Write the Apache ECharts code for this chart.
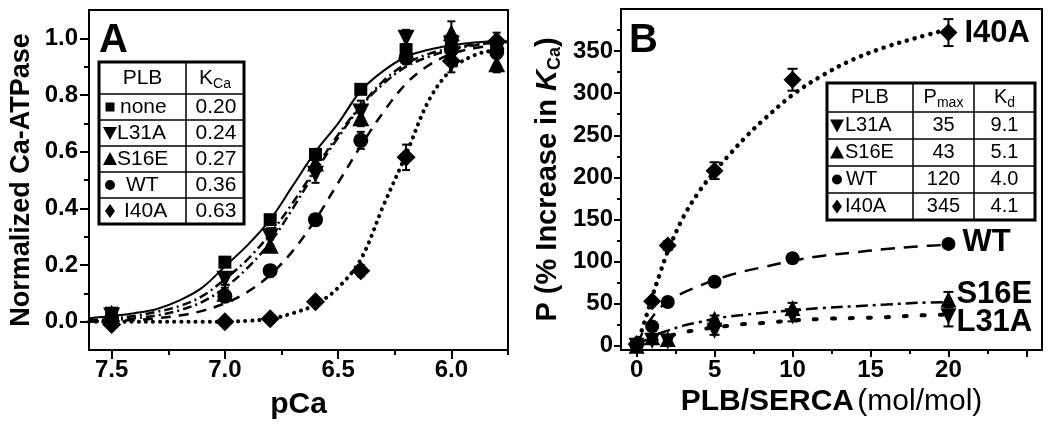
<!DOCTYPE html>
<html>
<head>
<meta charset="utf-8">
<script src="https://cdn.jsdelivr.net/npm/echarts@6/dist/echarts.min.js"></script>
<style>
html,body{margin:0;padding:0;background:#fff;}
#c{width:1050px;height:428px;}
</style>
</head>
<body>
<div id="c"></div>
<script>
// ================= Panel A data =================
const aNames = ['none', 'L31A', 'S16E', 'WT', 'I40A'];
const pCa = [7.5, 7.0, 6.8, 6.6, 6.4, 6.2, 6.0, 5.8];
const aNone = [0.03, 0.21, 0.36, 0.59, 0.82, 0.96, 0.99, 0.97];
const aL31A = [0.02, 0.15, 0.30, 0.52, 0.74, 1.00, 0.98, 0.96];
const aS16E = [0.03, 0.10, 0.27, 0.56, 0.72, 0.95, 1.02, 0.91];
const aWT   = [0.01, 0.09, 0.18, 0.36, 0.64, 0.93, 0.96, 0.95];
const aI40A = [-0.01, 0.00, 0.01, 0.07, 0.18, 0.58, 0.92, 0.99];
const aNoneErr = [0.01, 0.01, 0.01, 0.02, 0.01, 0.02, 0.02, 0.02];
const aL31AErr = [0.01, 0.02, 0.03, 0.03, 0.04, 0.03, 0.02, 0.02];
const aS16EErr = [0.01, 0.02, 0.02, 0.02, 0.03, 0.03, 0.04, 0.03];
const aWTErr   = [0.01, 0.02, 0.02, 0.02, 0.03, 0.02, 0.03, 0.02];
const aI40AErr = [0.01, 0.01, 0.01, 0.01, 0.02, 0.045, 0.04, 0.03];
// fitted curves
const pCaFit  = [7.6, 7.5, 7.4, 7.3, 7.2, 7.1, 7.0, 6.9, 6.8, 6.7, 6.6, 6.5, 6.4, 6.3, 6.2, 6.1, 6.0, 5.9, 5.8, 5.75];
const fitNone = [0.012, 0.02, 0.03, 0.045, 0.075, 0.12, 0.195, 0.27, 0.36, 0.48, 0.60, 0.70, 0.815, 0.885, 0.935, 0.96, 0.975, 0.985, 0.99, 0.99];
const fitL31A = [0.005, 0.01, 0.02, 0.035, 0.055, 0.09, 0.15, 0.22, 0.31, 0.42, 0.54, 0.66, 0.76, 0.84, 0.90, 0.935, 0.96, 0.975, 0.985, 0.988];
const fitS16E = [0.003, 0.006, 0.012, 0.022, 0.04, 0.07, 0.12, 0.19, 0.28, 0.40, 0.53, 0.65, 0.76, 0.85, 0.91, 0.945, 0.965, 0.978, 0.985, 0.987];
const fitWT   = [0.0, 0.003, 0.006, 0.012, 0.022, 0.038, 0.065, 0.105, 0.165, 0.25, 0.36, 0.49, 0.62, 0.74, 0.84, 0.905, 0.945, 0.965, 0.975, 0.978];
const fitI40A = [0.0, 0.0, 0.0, 0.0, 0.0, 0.0, 0.0, 0.003, 0.01, 0.03, 0.06, 0.12, 0.22, 0.41, 0.59, 0.78, 0.89, 0.94, 0.96, 0.965];
// axis ticks A
const aXMajor = [7.5, 7.0, 6.5, 6.0];
const aXMinor = [7.25, 6.75, 6.25, 5.75];
const aYMajor = [0, 0.2, 0.4, 0.6, 0.8, 1.0];
const aYMinor = [0.1, 0.3, 0.5, 0.7, 0.9];
// table A
const tabANames = ['none', 'L31A', 'S16E', 'WT', 'I40A'];
const tabAKca = ['0.20', '0.24', '0.27', '0.36', '0.63'];

// ================= Panel B data =================
const bNames = ['L31A', 'S16E', 'WT', 'I40A'];
const ratio = [0, 1, 2, 5, 10, 20];
const bL31A = [0, 6, 5, 18, 35, 35];
const bS16E = [0, 10, 8, 32, 45, 55];
const bWT   = [0, 23, 52, 76, 104, 121];
const bI40A = [2, 53, 119, 208, 316, 372];
const bL31AErr = [0, 3, 3, 5, 6, 12];
const bS16EErr = [0, 3, 5, 4, 6, 9];
const bWTErr   = [0, 2, 3, 3, 4, 3];
const bI40AErr = [0, 2, 5, 10, 13, 16];
const ratioFit = [0, 0.5, 1, 1.5, 2, 3, 4, 5, 6, 7, 8, 10, 12, 14, 16, 18, 20];
const fitBL31A = [0, 3, 6, 8, 11, 16, 19, 22, 24, 26, 27, 30, 32, 33, 34, 36, 37];
const fitBS16E = [0, 6, 11, 15, 18, 24, 28, 32, 35, 37, 39, 42, 45, 47, 49, 51, 52];
const fitBWT   = [0, 20, 34, 45, 53, 63, 71, 78, 84, 89, 93, 101, 107, 111, 115, 118, 120];
const fitBI40A = [0, 28, 58, 86, 112, 153, 183, 207, 228, 248, 266, 298, 322, 341, 355, 366, 376];
const bXMajor = [0, 5, 10, 15, 20, 25];
const bXLabels = [0, 5, 10, 15, 20];
const bXMinor = [2.5, 7.5, 12.5, 17.5, 22.5];
const bYMajor = [0, 50, 100, 150, 200, 250, 300, 350];
const bYMinor = [25, 75, 125, 175, 225, 275, 325, 375];
// table B
const tabBNames = ['L31A', 'S16E', 'WT', 'I40A'];
const tabBPmax = ['35', '43', '120', '345'];
const tabBKd = ['9.1', '5.1', '4.0', '4.1'];

// ================= helpers =================
const F = '"Liberation Sans", Arial, Helvetica, sans-serif';
const pts = (xs, ys) => xs.map((x, i) => [x, ys[i]]);
const errs = (xs, ys, es) => xs.map((x, i) => [x, ys[i], es[i]]);

const symbolOf = {
  none: {symbol: 'rect', size: 13, rotate: 0},
  L31A: {symbol: 'triangle', size: 17, rotate: 180},
  S16E: {symbol: 'triangle', size: 17, rotate: 0},
  WT:   {symbol: 'circle', size: 15, rotate: 0},
  I40A: {symbol: 'diamond', size: 19, rotate: 0}
};

function errRender(capHalf) {
  return function (params, api) {
    const x = api.value(0), y = api.value(1), e = api.value(2);
    if (!(e > 0)) return null;
    const p1 = api.coord([x, y + e]);
    const p2 = api.coord([x, y - e]);
    const st = {stroke: '#000', lineWidth: 2};
    return {
      type: 'group',
      children: [
        {type: 'line', shape: {x1: p1[0], y1: p1[1], x2: p2[0], y2: p2[1]}, style: st},
        {type: 'line', shape: {x1: p1[0] - capHalf, y1: p1[1], x2: p1[0] + capHalf, y2: p1[1]}, style: st},
        {type: 'line', shape: {x1: p2[0] - capHalf, y1: p2[1], x2: p2[0] + capHalf, y2: p2[1]}, style: st}
      ]
    };
  };
}

const tickLabel = {fontSize: 24, fontWeight: 'bold', color: '#000', fontFamily: F};

function majorAxis(extra) {
  return Object.assign({
    type: 'value',
    axisLine: {show: true, onZero: false, lineStyle: {color: '#000', width: 2}},
    splitLine: {show: false},
  }, extra);
}
function minorAxis(extra) {
  return Object.assign({
    type: 'value',
    axisLine: {show: false, onZero: false},
    axisLabel: {show: false},
    splitLine: {show: false},
  }, extra);
}

// ================= series =================
const series = [];
const aLineStyles = {
  none: {type: 'solid', width: 2},
  L31A: {type: [9, 4, 2, 4], width: 2.5},
  S16E: {type: [9, 4, 2, 4], width: 2.5},
  WT:   {type: [10, 8], width: 2.5},
  I40A: {type: [0.1, 7], width: 4, cap: 'round'}
};
const aFits = {none: fitNone, L31A: fitL31A, S16E: fitS16E, WT: fitWT, I40A: fitI40A};
const aVals = {none: aNone, L31A: aL31A, S16E: aS16E, WT: aWT, I40A: aI40A};
const aErrs = {none: aNoneErr, L31A: aL31AErr, S16E: aS16EErr, WT: aWTErr, I40A: aI40AErr};

aNames.forEach(n => {
  series.push({
    name: 'fitA-' + n, type: 'line', xAxisIndex: 0, yAxisIndex: 0,
    data: pts(pCaFit, aFits[n]), showSymbol: false, symbol: 'none', smooth: 0.35,
    lineStyle: Object.assign({color: '#000'}, aLineStyles[n]), silent: true, z: 2
  });
});
aNames.forEach(n => {
  series.push({
    name: 'errA-' + n, type: 'custom', xAxisIndex: 0, yAxisIndex: 0,
    encode: {x: 0, y: 1}, renderItem: errRender(4),
    data: errs(pCa, aVals[n], aErrs[n]), z: 3, silent: true
  });
});
aNames.forEach(n => {
  const s = symbolOf[n];
  series.push({
    name: 'A-' + n, type: 'scatter', xAxisIndex: 0, yAxisIndex: 0,
    data: pts(pCa, aVals[n]), symbol: s.symbol, symbolSize: s.size, symbolRotate: s.rotate,
    itemStyle: {color: '#000', opacity: 1}, z: 4
  });
});

const bLineStyles = {
  L31A: {type: [3, 15], width: 4, cap: 'round'},
  S16E: {type: [12, 5, 3, 5], width: 2.5},
  WT:   {type: [14, 9], width: 2.5},
  I40A: {type: [0.1, 8], width: 4.5, cap: 'round'}
};
const bFits = {L31A: fitBL31A, S16E: fitBS16E, WT: fitBWT, I40A: fitBI40A};
const bVals = {L31A: bL31A, S16E: bS16E, WT: bWT, I40A: bI40A};
const bErrs = {L31A: bL31AErr, S16E: bS16EErr, WT: bWTErr, I40A: bI40AErr};
const bLabelShift = {
  L31A: {distance: 0, dy: 6},
  S16E: {distance: 0, dy: -5},
  WT:   {distance: 7, dy: -1},
  I40A: {distance: 7, dy: 1}
};

bNames.forEach(n => {
  series.push({
    name: 'fitB-' + n, type: 'line', xAxisIndex: 2, yAxisIndex: 2,
    data: pts(ratioFit, bFits[n]), showSymbol: false, symbol: 'none', smooth: 0.35,
    lineStyle: Object.assign({color: '#000'}, bLineStyles[n]), silent: true, z: 2
  });
});
bNames.forEach(n => {
  series.push({
    name: 'errB-' + n, type: 'custom', xAxisIndex: 2, yAxisIndex: 2,
    encode: {x: 0, y: 1}, renderItem: errRender(5),
    data: errs(ratio, bVals[n], bErrs[n]), z: 3, silent: true
  });
});
bNames.forEach(n => {
  const s = symbolOf[n];
  const last = ratio.length - 1;
  series.push({
    name: 'B-' + n, type: 'scatter', xAxisIndex: 2, yAxisIndex: 2,
    data: pts(ratio, bVals[n]), symbol: s.symbol, symbolSize: s.size - 1, symbolRotate: s.rotate,
    itemStyle: {color: '#000', opacity: 1}, z: 4,
    label: {
      show: true, position: 'right', distance: bLabelShift[n].distance,
      formatter: p => (p.dataIndex === last ? n : ''),
      fontSize: 31, fontWeight: 'bold', color: '#000', fontFamily: F
    },
    labelLayout: () => ({dy: bLabelShift[n].dy, hideOverlap: false})
  });
});

// ================= tables (graphic) =================
function icon(kind, cx, cy) {
  const st = {fill: '#000'};
  if (kind === 'none') return {type: 'rect', shape: {x: cx - 4.5, y: cy - 4.5, width: 9, height: 9}, style: st};
  if (kind === 'L31A') return {type: 'polygon', shape: {points: [[cx - 7, cy - 6], [cx + 7, cy - 6], [cx, cy + 7]]}, style: st};
  if (kind === 'S16E') return {type: 'polygon', shape: {points: [[cx - 7, cy + 6], [cx + 7, cy + 6], [cx, cy - 7]]}, style: st};
  if (kind === 'WT') return {type: 'circle', shape: {cx: cx, cy: cy, r: 5}, style: st};
  return {type: 'polygon', shape: {points: [[cx, cy - 7], [cx + 5, cy], [cx, cy + 7], [cx - 5, cy]]}, style: st};
}
function txt(t, x, y, size, align, rich) {
  const style = {text: t, x: x, y: y, fill: '#000', fontSize: size, fontFamily: F, align: align || 'center', verticalAlign: 'middle'};
  if (rich) style.rich = rich;
  return {type: 'text', style: style};
}
function line(x1, y1, x2, y2, w) {
  return {type: 'line', shape: {x1, y1, x2, y2}, style: {stroke: '#000', lineWidth: w}};
}
const nameTextLeft = {none: 120, L31A: 117, S16E: 117, WT: 126, I40A: 124};
const nameTextLeftB = {L31A: 845, S16E: 845, WT: 846, I40A: 845};

function tableA() {
  const L = 99, R = 244, T = 62, H0 = 32, RH = 26, D = 186;
  const B = T + H0 + RH * tabANames.length;
  const el = [];
  el.push({type: 'rect', shape: {x: L, y: T, width: R - L, height: B - T}, style: {fill: '#fff', stroke: '#000', lineWidth: 3}});
  el.push(line(D, T, D, B, 1.5));
  for (let i = 0; i < tabANames.length; i++) el.push(line(L, T + H0 + RH * i, R, T + H0 + RH * i, 1.5));
  el.push(txt('PLB', (L + D) / 2, T + H0 / 2, 21));
  el.push(txt('{k|K}{s|Ca}', (D + R) / 2, T + H0 / 2, 21, 'center',
    {k: {fontSize: 21, fontFamily: F, fill: '#000', lineHeight: 26, verticalAlign: 'middle'},
     s: {fontSize: 14, fontFamily: F, fill: '#000', lineHeight: 26, verticalAlign: 'bottom', padding: [8, 0, 0, 0]}}));
  tabANames.forEach((n, i) => {
    const cy = T + H0 + RH * i + RH / 2;
    el.push(icon(n, 110, cy));
    el.push(txt(n, nameTextLeft[n], cy, 21, 'left'));
    el.push(txt(tabAKca[i], (D + R) / 2 + 1, cy, 21));
  });
  return {type: 'group', z: 100, children: el};
}
function tableB() {
  const L = 827, R = 1035, T = 83, H0 = 29, RH = 27, D1 = 913, D2 = 974;
  const B = T + H0 + RH * tabBNames.length;
  const el = [];
  el.push({type: 'rect', shape: {x: L, y: T, width: R - L, height: B - T}, style: {fill: '#fff', stroke: '#000', lineWidth: 3}});
  el.push(line(D1, T, D1, B, 1.5));
  el.push(line(D2, T, D2, B, 1.5));
  for (let i = 0; i < tabBNames.length; i++) el.push(line(L, T + H0 + RH * i, R, T + H0 + RH * i, 1.5));
  el.push(txt('PLB', (L + D1) / 2, T + H0 / 2, 20));
  const subRich = {m: {fontSize: 20, fontFamily: F, fill: '#000', lineHeight: 26, verticalAlign: 'middle'},
                   s: {fontSize: 14, fontFamily: F, fill: '#000', lineHeight: 26, verticalAlign: 'bottom', padding: [8, 0, 0, 0]}};
  el.push(txt('{m|P}{s|max}', (D1 + D2) / 2, T + H0 / 2, 20, 'center', subRich));
  el.push(txt('{m|K}{s|d}', (D2 + R) / 2, T + H0 / 2, 20, 'center', subRich));
  tabBNames.forEach((n, i) => {
    const cy = T + H0 + RH * i + RH / 2;
    el.push(icon(n, 837, cy));
    el.push(txt(n, nameTextLeftB[n], cy, 20, 'left'));
    el.push(txt(tabBPmax[i], (D1 + D2) / 2, cy, 20));
    el.push(txt(tabBKd[i], (D2 + R) / 2, cy, 20));
  });
  return {type: 'group', z: 100, children: el};
}

// ================= option =================
const option = {
  backgroundColor: '#fff',
  animation: false,
  textStyle: {fontFamily: F},
  grid: [
    {left: 89, top: 10, width: 419, height: 340, show: true, borderColor: '#000', borderWidth: 2, backgroundColor: 'transparent'},
    {left: 621, top: 9, width: 421, height: 341, show: true, borderColor: '#000', borderWidth: 2, backgroundColor: 'transparent'}
  ],
  xAxis: [
    majorAxis({
      gridIndex: 0, position: 'bottom', min: 5.75, max: 7.6, inverse: true,
      axisTick: {show: true, inside: false, length: 9, lineStyle: {color: '#000', width: 2}, customValues: aXMajor},
      axisLabel: Object.assign({customValues: aXMajor, margin: 8, formatter: v => v.toFixed(1)}, tickLabel),
      name: 'pCa', nameLocation: 'middle', nameGap: 40,
      nameTextStyle: {fontSize: 30, fontWeight: 'bold', color: '#000', fontFamily: F}
    }),
    minorAxis({
      gridIndex: 0, position: 'bottom', min: 5.75, max: 7.6, inverse: true,
      axisTick: {show: true, inside: false, length: 5, lineStyle: {color: '#000', width: 2}, customValues: aXMinor}
    }),
    majorAxis({
      gridIndex: 1, position: 'bottom', min: -1, max: 26,
      axisTick: {show: true, inside: false, length: 7, lineStyle: {color: '#000', width: 2}, customValues: bXMajor},
      axisLabel: Object.assign({customValues: bXLabels, margin: 8}, tickLabel),
      name: '{b|PLB/SERCA} {r|(mol/mol)}', nameLocation: 'middle', nameGap: 34,
      nameTextStyle: {color: '#000', fontFamily: F, rich: {
        b: {fontSize: 30, fontWeight: 'bold', color: '#000', fontFamily: F},
        r: {fontSize: 30, fontWeight: 'normal', color: '#000', fontFamily: F}
      }}
    }),
    minorAxis({
      gridIndex: 1, position: 'bottom', min: -1, max: 26,
      axisTick: {show: true, inside: false, length: 4, lineStyle: {color: '#000', width: 2}, customValues: bXMinor}
    })
  ],
  yAxis: [
    majorAxis({
      gridIndex: 0, position: 'left', min: -0.1, max: 1.1,
      axisTick: {show: true, inside: false, length: 9, lineStyle: {color: '#000', width: 2}, customValues: aYMajor},
      axisLabel: Object.assign({customValues: aYMajor, margin: 11, formatter: v => v.toFixed(1)}, tickLabel),
      name: 'Normalized Ca-ATPase', nameLocation: 'middle', nameRotate: 90, nameGap: 54,
      nameTextStyle: {fontSize: 27, fontWeight: 'bold', color: '#000', fontFamily: F}
    }),
    minorAxis({
      gridIndex: 0, position: 'left', min: -0.1, max: 1.1,
      axisTick: {show: true, inside: false, length: 5, lineStyle: {color: '#000', width: 2}, customValues: aYMinor}
    }),
    majorAxis({
      gridIndex: 1, position: 'left', min: -5, max: 400,
      axisTick: {show: true, inside: false, length: 7, lineStyle: {color: '#000', width: 2}, customValues: bYMajor},
      axisLabel: Object.assign({customValues: bYMajor, margin: 8}, tickLabel),
      name: '{n|P (% Increase in }{i|K}{s|Ca}{n|)}', nameLocation: 'middle', nameRotate: 90, nameGap: 57,
      nameTextStyle: {color: '#000', fontFamily: F, rich: {
        n: {fontSize: 29, fontWeight: 'bold', color: '#000', fontFamily: F, lineHeight: 33, verticalAlign: 'middle'},
        i: {fontSize: 29, fontWeight: 'bold', fontStyle: 'italic', color: '#000', fontFamily: F, lineHeight: 33, verticalAlign: 'middle'},
        s: {fontSize: 18, fontWeight: 'bold', color: '#000', fontFamily: F, lineHeight: 33, verticalAlign: 'bottom', padding: [10, 0, 0, 0]}
      }}
    }),
    minorAxis({
      gridIndex: 1, position: 'left', min: -5, max: 400,
      axisTick: {show: true, inside: false, length: 4, lineStyle: {color: '#000', width: 2}, customValues: bYMinor}
    })
  ],
  series: series,
  graphic: [
    {type: 'text', z: 100, style: {text: 'A', x: 99, y: 21, fontSize: 40, fontWeight: 'bold', fontFamily: F, fill: '#000', align: 'left', verticalAlign: 'top'}},
    {type: 'text', z: 100, style: {text: 'B', x: 629, y: 21, fontSize: 40, fontWeight: 'bold', fontFamily: F, fill: '#000', align: 'left', verticalAlign: 'top'}},
    tableA(),
    tableB()
  ]
};

const chart = echarts.init(document.getElementById('c'), null, {renderer: 'canvas'});
chart.setOption(option);
</script>
</body>
</html>
